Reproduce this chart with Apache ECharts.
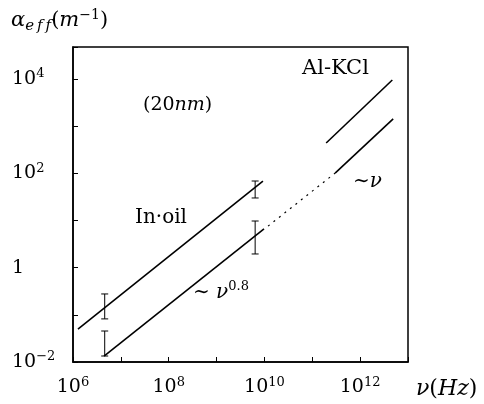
<!DOCTYPE html>
<html>
<head>
<meta charset="utf-8">
<script src="https://cdn.jsdelivr.net/npm/echarts@6/dist/echarts.min.js"></script>
<style>
html,body{margin:0;padding:0;background:#fff;}
#c{width:484px;height:404px;}
</style>
</head>
<body>
<div id="c"></div>
<script>
// ---- data ----
const xLabelExponents = [6, 8, 10, 12];
const yLabelExponents = [-2, 0, 2, 4];

const inOilUpperX = [1.27e6, 9.3e9];
const inOilUpperY = [0.050, 68.7];
const inOilLowerX = [4.45e6, 9.8e9];
const inOilLowerY = [0.0134, 6.6];
const extrapX = [1.19e10, 3.0e11];
const extrapY = [7.6, 101];
const alLowerX = [3.0e11, 4.9e12];
const alLowerY = [101, 1420];
const alUpperX = [1.95e11, 4.7e12];
const alUpperY = [440, 9500];

const errX = [4.6e6, 4.6e6, 6.4e9, 6.4e9];
const errLow = [0.082, 0.0134, 30, 1.95];
const errHigh = [0.277, 0.0454, 68.7, 9.75];

// ---- build ----
const FONT = 'DejaVu Serif';
function pairs(xs, ys) { return xs.map((x, i) => [x, ys[i]]); }

function expLabel(list) {
  return function (v) {
    const l = Math.log10(v);
    const e = Math.round(l);
    if (Math.abs(l - e) > 1e-6 || list.indexOf(e) < 0) return '';
    if (e === 0) return '{m|1}';
    return '{m|10}{s|' + (e < 0 ? '\u2212' + (-e) : e) + '}';
  };
}
const labelRich = {
  m: { fontFamily: FONT, fontSize: 19, color: '#000' },
  s: { fontFamily: FONT, fontSize: 13, color: '#000', padding: [0, 0, 10, 0] }
};

const solid = { color: '#000', width: 1.6 };
function lineSeries(name, xs, ys, style) {
  return {
    name: name, type: 'line', data: pairs(xs, ys), symbol: 'none',
    lineStyle: style || solid, silent: true, animation: false
  };
}

const chart = echarts.init(document.getElementById('c'));
chart.setOption({
  backgroundColor: '#fff',
  animation: false,
  grid: { left: 73, top: 47, right: 76, bottom: 42, show: true, borderColor: '#000', borderWidth: 1.5, backgroundColor: 'transparent' },
  xAxis: {
    type: 'log', logBase: 10, min: 1e6, max: 1e13, interval: 1,
    axisLine: { show: true, lineStyle: { color: '#000', width: 1.5 } },
    axisTick: { show: true, inside: true, length: 5, lineStyle: { color: '#000', width: 1 } },
    splitLine: { show: false },
    axisLabel: { margin: 14, formatter: expLabel(xLabelExponents), rich: labelRich, showMinLabel: true, showMaxLabel: true }
  },
  yAxis: {
    type: 'log', logBase: 10, min: 0.01, max: 47600, interval: 1,
    axisLine: { show: true, lineStyle: { color: '#000', width: 1.5 } },
    axisTick: { show: true, inside: true, length: 5, lineStyle: { color: '#000', width: 1 } },
    splitLine: { show: false },
    axisLabel: { margin: 61, align: 'left', formatter: expLabel(yLabelExponents), rich: labelRich, showMinLabel: true, showMaxLabel: true }
  },
  series: [
    lineSeries('In-oil upper', inOilUpperX, inOilUpperY),
    lineSeries('In-oil lower', inOilLowerX, inOilLowerY),
    lineSeries('extrapolation', extrapX, extrapY, { color: '#000', width: 1.2, type: [2, 5] }),
    lineSeries('Al-KCl lower', alLowerX, alLowerY),
    lineSeries('Al-KCl upper', alUpperX, alUpperY),
    {
      name: 'error bars', type: 'custom', silent: true, animation: false,
      data: errX.map((x, i) => [x, errLow[i], errHigh[i]]),
      renderItem: function (params, api) {
        const lo = api.coord([api.value(0), api.value(1)]);
        const hi = api.coord([api.value(0), api.value(2)]);
        const w = 3.5;
        const st = { stroke: '#000', lineWidth: 1 };
        return {
          type: 'group', children: [
            { type: 'line', shape: { x1: lo[0], y1: lo[1], x2: hi[0], y2: hi[1] }, style: st },
            { type: 'line', shape: { x1: lo[0] - w, y1: lo[1], x2: lo[0] + w, y2: lo[1] }, style: st },
            { type: 'line', shape: { x1: hi[0] - w, y1: hi[1], x2: hi[0] + w, y2: hi[1] }, style: st }
          ]
        };
      }
    }
  ],
  graphic: [
    { type: 'text', left: 11, top: 8, style: {
      text: '{a|\u03b1}{b|e\u2009f\u2009f}{c|(}{a|m}{d|\u22121}{c|)}',
      rich: {
        a: { fontFamily: FONT, fontStyle: 'italic', fontSize: 21, fill: '#000' },
        b: { fontFamily: FONT, fontStyle: 'italic', fontSize: 15, fill: '#000', padding: [10, 0, 0, 0] },
        c: { fontFamily: FONT, fontSize: 21, fill: '#000' },
        d: { fontFamily: FONT, fontSize: 14, fill: '#000', padding: [0, 0, 12, 0] }
      } } },
    { type: 'text', left: 416, top: 378, style: {
      text: '{a|\u03bd}{c|(}{a|Hz}{c|)}',
      rich: {
        a: { fontFamily: FONT, fontStyle: 'italic', fontSize: 22, fill: '#000' },
        c: { fontFamily: FONT, fontSize: 22, fill: '#000' }
      } } },
    { type: 'text', left: 143, top: 96, style: {
      text: '{c|(20}{a|nm}{c|)}',
      rich: {
        a: { fontFamily: FONT, fontStyle: 'italic', fontSize: 19, fill: '#000' },
        c: { fontFamily: FONT, fontSize: 19, fill: '#000' }
      } } },
    { type: 'text', left: 302, top: 58, style: { text: 'Al-KCl', fontFamily: FONT, fontSize: 21, fill: '#000' } },
    { type: 'text', left: 135, top: 208, style: { text: 'In\u00b7oil', fontFamily: FONT, fontSize: 20, fill: '#000' } },
    { type: 'text', left: 193, top: 280, style: {
      text: '{c|\u223c }{a|\u03bd}{d|0.8}',
      rich: {
        a: { fontFamily: FONT, fontStyle: 'italic', fontSize: 20, fill: '#000' },
        c: { fontFamily: FONT, fontSize: 20, fill: '#000' },
        d: { fontFamily: FONT, fontSize: 13, fill: '#000', padding: [0, 0, 12, 0] }
      } } },
    { type: 'text', left: 353, top: 172, style: {
      text: '{c|\u223c}{a|\u03bd}',
      rich: {
        a: { fontFamily: FONT, fontStyle: 'italic', fontSize: 20, fill: '#000' },
        c: { fontFamily: FONT, fontSize: 20, fill: '#000' }
      } } }
  ]
});
</script>
</body>
</html>
